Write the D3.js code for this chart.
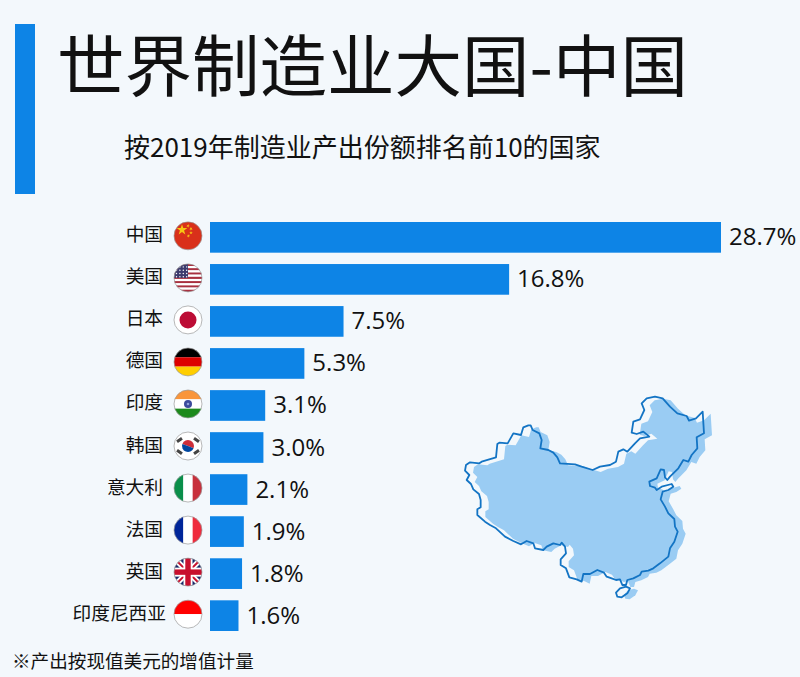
<!DOCTYPE html>
<html>
<head>
<meta charset="utf-8">
<script src="https://cdn.jsdelivr.net/npm/d3@7"></script>
<style>
html, body { margin: 0; padding: 0; background: #f3f8fc; overflow: hidden; }
text { font-family: "Noto Sans CJK SC", sans-serif; fill: #111; }
.value { font-family: "Open Sans", sans-serif; }
</style>
</head>
<body>
<svg id="chart" width="800" height="677"></svg>
<script>
// Chart data
const countries = ['中国', '美国', '日本', '德国', '印度', '韩国', '意大利', '法国', '英国', '印度尼西亚'];
const shares = [28.7, 16.8, 7.5, 5.3, 3.1, 3.0, 2.1, 1.9, 1.8, 1.6];
const flagCodes = ['cn', 'us', 'jp', 'de', 'in', 'kr', 'it', 'fr', 'gb', 'id'];

const titleText = '世界制造业大国-中国';
const subtitleText = '按2019年制造业产出份额排名前10的国家';
const noteText = '※产出按现值美元的增值计量';

// Map outline, in its own 810x675 units
const chinaOutline = [[227,121],[233,135],[253,145],[260,165],[256,190],[280,195],[295,203],[307,217],[315,235],[360,238],[380,245],[413,255],[435,245],[465,240],[483,230],[490,200],[505,193],[517,200],[540,175],[555,160],[583,155],[565,140],[545,147],[530,143],[535,110],[555,103],[568,75],[560,55],[575,40],[600,35],[623,40],[645,65],[667,85],[695,93],[702,107],[723,100],[743,80],[747,145],[725,157],[727,190],[710,210],[700,230],[685,225],[670,250],[645,275],[637,285],[630,277],[627,255],[617,253],[605,280],[583,290],[585,303],[600,308],[605,315],[620,305],[650,297],[655,305],[640,315],[623,320],[617,343],[630,365],[640,385],[658,402],[660,425],[668,440],[658,470],[645,490],[640,515],[615,535],[595,550],[580,557],[560,560],[555,570],[535,580],[517,585],[513,600],[502,600],[495,583],[483,585],[470,580],[455,575],[447,563],[427,555],[405,567],[385,567],[380,590],[365,583],[343,577],[333,550],[317,540],[317,523],[333,505],[330,485],[320,473],[315,480],[295,475],[275,485],[265,495],[240,490],[235,475],[215,468],[198,478],[175,468],[150,455],[123,430],[105,420],[90,410],[67,390],[67,373],[77,367],[77,345],[72,327],[55,313],[48,297],[35,285],[43,270],[30,257],[33,240],[45,232],[73,235],[80,230],[123,217],[127,177],[133,173],[158,175],[175,145],[198,150],[205,127],[220,121]];
const hainanOutline = [[525,610],[517,625],[500,637],[487,635],[483,623],[495,610],[513,605]];

const blue = '#0d84e6';
const svg = d3.select('#chart');

// Scales
const x = d3.scaleLinear().domain([0, 28.7]).range([210, 721]);
const y = d3.scaleBand().domain(countries).range([222, 631]).paddingInner(0.27);
const mapX = d3.scaleLinear().domain([0, 810]).range([455, 725]);
const mapY = d3.scaleLinear().domain([0, 675]).range([385, 610]);

// Header
svg.append('rect').attr('x', 15).attr('y', 24).attr('width', 20).attr('height', 170).attr('fill', blue);
svg.append('text').attr('x', 57).attr('y', 91).attr('font-size', 67.5).attr('fill', '#000').text(titleText);
svg.append('text').attr('x', 124).attr('y', 157).attr('font-size', 26).text(subtitleText);

// Map: soft fill sits a little right of the outline
const line = d3.line().x(d => mapX(d[0])).y(d => mapY(d[1])).curve(d3.curveLinearClosed);
const map = svg.append('g');
[chinaOutline, hainanOutline].forEach(shape => {
    map.append('path').attr('d', line(shape)).attr('fill', '#9accf3').attr('transform', 'translate(8,2)');
});
[chinaOutline, hainanOutline].forEach(shape => {
    map.append('path').attr('d', line(shape)).attr('fill', 'none').attr('stroke', '#1374c4').attr('stroke-width', 1.8).attr('stroke-linejoin', 'round');
});

// Bars
svg.selectAll('.bar')
    .data(countries)
    .join('rect')
    .attr('class', 'bar')
    .attr('x', x(0))
    .attr('y', d => y(d))
    .attr('width', (d, i) => x(shares[i]) - x(0))
    .attr('height', y.bandwidth())
    .attr('fill', blue);

// Value labels
svg.selectAll('.value')
    .data(countries)
    .join('text')
    .attr('class', 'value')
    .attr('x', (d, i) => x(shares[i]) + 8)
    .attr('y', d => y(d) + y.bandwidth() / 2 + 8)
    .attr('font-size', 24)
    .text((d, i) => shares[i].toFixed(1) + '%');

// Country labels
svg.selectAll('.name')
    .data(countries)
    .join('text')
    .attr('class', 'name')
    .attr('x', d => d.length > 3 ? 166 : 163)
    .attr('y', d => y(d) + y.bandwidth() / 2 + 4)
    .attr('text-anchor', 'end')
    .attr('font-size', 18.7)
    .text(d => d);

// Flags
const flagR = 14;
const stripes = (g, colors, vertical) => {
    const band = d3.scaleBand().domain(d3.range(colors.length)).range([-flagR, flagR]);
    colors.forEach((c, i) => {
        const r = g.append('rect').attr('fill', c);
        if (vertical) r.attr('x', band(i)).attr('y', -flagR).attr('width', band.bandwidth()).attr('height', 2 * flagR);
        else r.attr('x', -flagR).attr('y', band(i)).attr('width', 2 * flagR).attr('height', band.bandwidth());
    });
};
const star = (g, px, py, size, rotate = 0) => {
    g.append('path').attr('d', d3.symbol(d3.symbolStar, size)()).attr('fill', '#f7c613')
        .attr('transform', `translate(${px},${py}) rotate(${rotate})`);
};
const flags = {
    cn: g => {
        stripes(g, ['#d9301a'], false);
        star(g, -6, -6, 36);
        star(g, 0, -10, 4, 20);
        star(g, 3, -7, 4, 40);
        star(g, 3, -3, 4, 0);
        star(g, 0.5, 0, 4, 20);
    },
    us: g => {
        stripes(g, d3.range(13).map(i => i % 2 ? '#fff' : '#a8303f'), false);
        g.append('rect').attr('x', -flagR).attr('y', -flagR).attr('width', 14).attr('height', 14).attr('fill', '#3c3b6e');
        d3.range(4).forEach(r => d3.range(4).forEach(c => {
            g.append('circle').attr('cx', -11.5 + c * 3.4).attr('cy', -11 + r * 3.3).attr('r', 0.7).attr('fill', '#fff');
        }));
    },
    jp: g => {
        stripes(g, ['#fff'], false);
        g.append('circle').attr('r', 8.5).attr('fill', '#bc0c35');
    },
    de: g => stripes(g, ['#000', '#dd0000', '#ffce00'], false),
    in: g => {
        stripes(g, ['#f9953a', '#fff', '#1c8a1c'], false);
        g.append('circle').attr('r', 4).attr('fill', '#3b4a9c');
        g.append('circle').attr('r', 1.3).attr('fill', '#8fa0d8');
    },
    kr: g => {
        stripes(g, ['#fff'], false);
        g.append('path').attr('d', d3.arc()({ innerRadius: 0, outerRadius: 6, startAngle: -Math.PI / 2.6, endAngle: Math.PI / 1.6 })).attr('fill', '#cd2e3a');
        g.append('path').attr('d', d3.arc()({ innerRadius: 0, outerRadius: 6, startAngle: Math.PI / 1.6, endAngle: Math.PI * 2 - Math.PI / 2.6 })).attr('fill', '#0047a0');
        [[-8.5, -6, -35], [8.5, -6, 35], [-8.5, 6, 35], [8.5, 6, -35]].forEach(t => {
            g.append('rect').attr('x', -3).attr('y', -1.5).attr('width', 6).attr('height', 3).attr('fill', '#444')
                .attr('transform', `translate(${t[0]},${t[1]}) rotate(${t[2]})`);
        });
    },
    it: g => stripes(g, ['#0a8f4a', '#fff', '#c8303c'], true),
    fr: g => stripes(g, ['#00269a', '#fff', '#ef2b3d'], true),
    gb: g => {
        stripes(g, ['#1b2a6b'], false);
        [45, -45].forEach(a => {
            g.append('rect').attr('x', -20).attr('y', -2.8).attr('width', 40).attr('height', 5.6).attr('fill', '#fff').attr('transform', `rotate(${a})`);
            g.append('rect').attr('x', -20).attr('y', -1).attr('width', 40).attr('height', 2).attr('fill', '#c8102e').attr('transform', `rotate(${a})`);
        });
        g.append('rect').attr('x', -flagR).attr('y', -4.5).attr('width', 2 * flagR).attr('height', 9).attr('fill', '#fff');
        g.append('rect').attr('x', -4.5).attr('y', -flagR).attr('width', 9).attr('height', 2 * flagR).attr('fill', '#fff');
        g.append('rect').attr('x', -flagR).attr('y', -2.7).attr('width', 2 * flagR).attr('height', 5.4).attr('fill', '#c8102e');
        g.append('rect').attr('x', -2.7).attr('y', -flagR).attr('width', 5.4).attr('height', 2 * flagR).attr('fill', '#c8102e');
    },
    id: g => stripes(g, ['#ff0000', '#fff'], false)
};

svg.append('defs').append('clipPath').attr('id', 'flag-clip').append('circle').attr('r', flagR);
countries.forEach((c, i) => {
    const g = svg.append('g').attr('transform', `translate(188,${y(c) + y.bandwidth() / 2 - 1.5})`);
    const inner = g.append('g').attr('clip-path', 'url(#flag-clip)');
    flags[flagCodes[i]](inner);
    g.append('circle').attr('r', flagR).attr('fill', 'none').attr('stroke', '#999').attr('stroke-width', 0.7);
});

// Footnote
svg.append('text').attr('x', 12).attr('y', 668).attr('font-size', 18.6).text(noteText);
</script>
</body>
</html>
